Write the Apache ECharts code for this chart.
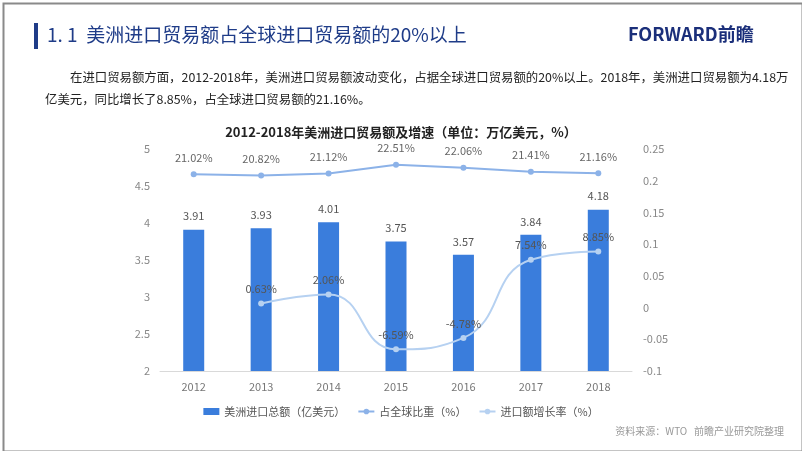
<!DOCTYPE html>
<html><head><meta charset="utf-8">
<script src="https://cdn.jsdelivr.net/npm/echarts@6/dist/echarts.min.js"></script>
<style>html,body{margin:0;padding:0;background:#fff}#c{width:802px;height:451px}</style>
</head><body><div id="c"></div>
<script>
const years = ['2012','2013','2014','2015','2016','2017','2018'];
const importValue = [3.91, 3.93, 4.01, 3.75, 3.57, 3.84, 4.18];
const globalShare = [0.2102, 0.2082, 0.2112, 0.2251, 0.2206, 0.2141, 0.2116];
const growthRate = [null, 0.0063, 0.0206, -0.0659, -0.0478, 0.0754, 0.0885];
const leftTicks = {min: 2, max: 5, interval: 0.5};
const rightTicks = {min: -0.1, max: 0.25, interval: 0.05};

const font = '"Noto Sans CJK SC", "Microsoft YaHei", sans-serif';
const chart = echarts.init(document.getElementById('c'));
const pct = p => (p.value * 100).toFixed(2) + '%';
chart.setOption({
  animation: false,
  textStyle: {fontFamily: font},
  title: {
    text: '2012-2018年美洲进口贸易额及增速（单位：万亿美元，%）',
    left: 'center', top: 121,
    textStyle: {fontSize: 13, fontWeight: 'bold', color: '#222', fontFamily: font}
  },
  grid: {left: 160, right: 170, top: 149, bottom: 80},
  legend: {
    top: 401, left: 'center', itemGap: 12, itemWidth: 16, itemHeight: 7,
    textStyle: {fontSize: 11, color: '#555', fontFamily: font},
    data: [
      {name: '美洲进口总额（亿美元）', icon: 'rect'},
      {name: '占全球比重（%）'},
      {name: '进口额增长率（%）'}
    ]
  },
  xAxis: {
    type: 'category', data: years,
    axisTick: {show: false},
    axisLine: {onZero: false, lineStyle: {color: '#d9d9d9'}},
    axisLabel: {color: '#777', fontSize: 11, margin: 10}
  },
  yAxis: [
    {type: 'value', min: leftTicks.min, max: leftTicks.max, interval: leftTicks.interval,
     splitLine: {show: false}, axisLine: {show: false}, axisTick: {show: false},
     axisLabel: {color: '#888', fontSize: 11, margin: 10}},
    {type: 'value', min: rightTicks.min, max: rightTicks.max, interval: rightTicks.interval,
     splitLine: {show: false}, axisLine: {show: false}, axisTick: {show: false},
     axisLabel: {color: '#888', fontSize: 11, margin: 11, formatter: v => +v.toFixed(2) + ''}}
  ],
  series: [
    {name: '美洲进口总额（亿美元）', type: 'bar', data: importValue, barWidth: 21,
     itemStyle: {color: '#3a7ddc'},
     label: {show: true, position: 'top', color: '#555', fontSize: 11, distance: 8}},
    {name: '占全球比重（%）', type: 'line', yAxisIndex: 1, data: globalShare,
     symbol: 'circle', symbolSize: 6,
     lineStyle: {color: '#8cb2e8', width: 2}, itemStyle: {color: '#8cb2e8'},
     label: {show: true, position: 'top', distance: 8, color: '#666', fontSize: 11, formatter: pct}},
    {name: '进口额增长率（%）', type: 'line', yAxisIndex: 1, data: growthRate,
     smooth: true, symbol: 'circle', symbolSize: 6,
     lineStyle: {color: '#b6d1f1', width: 2}, itemStyle: {color: '#b6d1f1'},
     label: {show: true, position: 'top', distance: 6, color: '#555', fontSize: 11, formatter: pct}}
  ],
  graphic: [
    {type: 'rect', left: 1, top: 1, shape: {width: 799, height: 448},
     style: {fill: 'none', stroke: '#8a8a8a', lineWidth: 2}, silent: true},
    {type: 'rect', left: 34, top: 23, shape: {width: 4, height: 26}, style: {fill: '#1f3c88'}},
    {type: 'text', left: 47, top: 25, style: {text: '1. 1  美洲进口贸易额占全球进口贸易额的20%以上',
      font: '19px ' + font, fill: '#1f3c88'}},
    {type: 'text', left: 628, top: 25, style: {text: 'FORWARD前瞻',
      font: 'bold 18px ' + font, fill: '#1b2f7a'}},
    {type: 'text', left: 70, top: 71, style: {text: '在进口贸易额方面，2012-2018年，美洲进口贸易额波动变化，占据全球进口贸易额的20%以上。2018年，美洲进口贸易额为4.18万',
      font: '12.4px ' + font, fill: '#222'}},
    {type: 'text', left: 45, top: 93, style: {text: '亿美元，同比增长了8.85%，占全球进口贸易额的21.16%。',
      font: '12.4px ' + font, fill: '#222'}},
    {type: 'text', right: 18, top: 426, style: {text: '资料来源：WTO   前瞻产业研究院整理',
      font: '10px ' + font, fill: '#999'}}
  ]
});
</script></body></html>
